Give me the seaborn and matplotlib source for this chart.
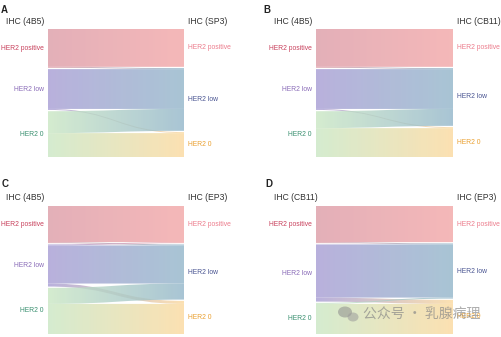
import numpy as np
import matplotlib
matplotlib.use("Agg")
import matplotlib.pyplot as plt
from matplotlib.path import Path
from matplotlib.patches import PathPatch, Ellipse
from matplotlib.colors import to_rgb
import seaborn as sns

sns.set_theme(style="white")
plt.rcParams['font.family'] = ['Liberation Sans', 'DejaVu Sans']

categories = ["HER2 positive", "HER2 low", "HER2 0"]

panel_letters = ["A", "B", "C", "D"]
left_assays = ["IHC (4B5)", "IHC (4B5)", "IHC (4B5)", "IHC (CB11)"]
right_assays = ["IHC (SP3)", "IHC (CB11)", "IHC (EP3)", "IHC (EP3)"]

# rows: category by the left assay, columns: category by the right assay
flows_a = [[38, 1, 0], [0, 40, 1], [0, 22, 24]]
flows_b = [[38, 1, 0], [0, 40, 1], [0, 17, 29]]
flows_c = [[36, 1, 0], [1, 38, 3], [0, 16, 30]]
flows_d = [[36, 1, 0], [0, 53, 4], [0, 1, 30]]
panel_flows = [flows_a, flows_b, flows_c, flows_d]

left_fill = ["#e4b0b8", "#b9b1dd", "#d5ecd0"]
right_fill = ["#f5b8b8", "#a9c5d5", "#fce1b2"]
left_text = ["#c8405c", "#8a6cb8", "#3a9070"]
right_text = ["#ec7c8c", "#4a5592", "#eaa030"]

FLOW_ALPHA = 0.8
GAP = 1.3

W, H = 502, 337
fig = plt.figure(figsize=(W / 100, H / 100), dpi=100)

# flow area of each panel in pixels: (left, top, right, bottom)
boxes = [(48, 29, 184, 157), (316, 29, 453, 157),
         (48, 206, 184, 334), (316, 206, 453, 334)]
letter_pos = [(1, 10), (263, 10), (2, 184), (265, 184)]


def strong(c):
    """Colour that gives `c` on white when drawn with FLOW_ALPHA."""
    r = np.array(to_rgb(c))
    return tuple(np.clip((r - (1 - FLOW_ALPHA)) / FLOW_ALPHA, 0, 1))


def ribbon(ly0, ly1, ry0, ry1):
    verts = [(0, ly0), (0.5, ly0), (0.5, ry0), (1, ry0),
             (1, ry1), (0.5, ry1), (0.5, ly1), (0, ly1), (0, ly0)]
    codes = [Path.MOVETO, Path.CURVE4, Path.CURVE4, Path.CURVE4,
             Path.LINETO, Path.CURVE4, Path.CURVE4, Path.CURVE4,
             Path.CLOSEPOLY]
    return Path(verts, codes)


grad = np.linspace(0, 1, 256)[None, :]

for k, flows in enumerate(panel_flows):
    m = np.array(flows, dtype=float)
    x0, y0, x1, y1 = boxes[k]
    ax = fig.add_axes([x0 / W, 1 - y1 / H, (x1 - x0) / W, (y1 - y0) / H])
    total = m.sum() + GAP * (len(categories) - 1)

    left_h = m.sum(axis=1)
    right_h = m.sum(axis=0)
    left_top = np.concatenate([[0], np.cumsum(left_h + GAP)[:-1]])
    right_top = np.concatenate([[0], np.cumsum(right_h + GAP)[:-1]])

    out_cursor = left_top.copy()
    in_cursor = right_top.copy()
    for i in range(len(categories)):
        for j in range(len(categories)):
            v = m[i, j]
            if v <= 0:
                continue
            ly0 = out_cursor[i]
            ry0 = in_cursor[j]
            out_cursor[i] += v
            in_cursor[j] += v
            patch = PathPatch(ribbon(ly0, ly0 + v, ry0, ry0 + v),
                              transform=ax.transData,
                              facecolor="none", edgecolor="none")
            ax.add_patch(patch)
            cmap = sns.blend_palette([strong(left_fill[i]), strong(right_fill[j])],
                                     n_colors=256, as_cmap=True)
            im = ax.imshow(grad, cmap=cmap, extent=(0, 1, total, 0),
                           aspect="auto", alpha=FLOW_ALPHA,
                           interpolation="bilinear")
            im.set_clip_path(patch)

    ax.set_xlim(0, 1)
    ax.set_ylim(total, 0)
    ax.axis("off")

    for i, name in enumerate(categories):
        ax.annotate(name, xy=(0, left_top[i] + left_h[i] / 2),
                    xytext=(-4, 0), textcoords="offset pixels",
                    ha="right", va="center", fontsize=4.9,
                    color=left_text[i], annotation_clip=False)
        ax.annotate(name, xy=(1, right_top[i] + right_h[i] / 2),
                    xytext=(4, 0), textcoords="offset pixels",
                    ha="left", va="center", fontsize=4.9,
                    color=right_text[i], annotation_clip=False)

    ax.annotate(left_assays[k], xy=(0, 1), xycoords="axes fraction",
                xytext=(-42, 8), textcoords="offset pixels",
                ha="left", va="center", fontsize=6.2, color="#333333",
                annotation_clip=False)
    ax.annotate(right_assays[k], xy=(1, 1), xycoords="axes fraction",
                xytext=(4, 8), textcoords="offset pixels",
                ha="left", va="center", fontsize=6.2, color="#333333",
                annotation_clip=False)

    lx, ly = letter_pos[k]
    fig.text(lx / W, 1 - ly / H, panel_letters[k], ha="left", va="center",
             fontsize=7, fontweight="bold", color="#222222")

# account watermark
over = fig.add_axes([0, 0, 1, 1], zorder=10)
over.set_xlim(0, W)
over.set_ylim(H, 0)
over.axis("off")
over.add_patch(Ellipse((345, 312), 14, 11, color="#8c8c8c", alpha=0.55, lw=0))
over.add_patch(Ellipse((353, 317), 11, 9, color="#9a9a9a", alpha=0.55, lw=0))
over.text(363, 315, "公众号 · 乳腺病理", ha="left", va="center", fontsize=10,
          color="#888888", alpha=0.7,
          family=["Noto Sans CJK SC", "DejaVu Sans"])

fig.savefig("out.png", dpi=100)
